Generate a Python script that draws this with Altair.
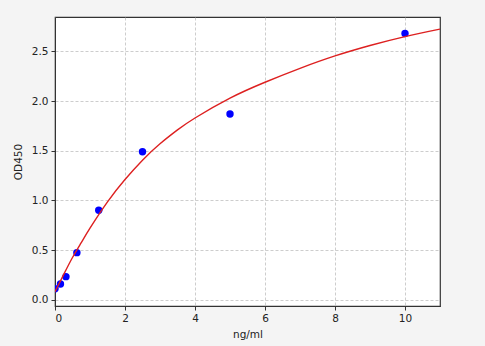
import altair as alt
import pandas as pd

# measured standards
conc = [0, 0.156, 0.3125, 0.625, 1.25, 2.5, 5, 10]
od = [0.11, 0.158, 0.232, 0.474, 0.90, 1.49, 1.87, 2.68]

# fitted curve
curve_x = [0, 0.25, 0.5, 0.75, 1, 1.5, 2, 2.5, 3, 3.5, 4, 5, 6, 7, 8, 9, 10, 11]
curve_y = [0.08, 0.255, 0.425, 0.575, 0.72, 0.985, 1.21, 1.405, 1.57, 1.71, 1.83,
           2.03, 2.19, 2.33, 2.455, 2.56, 2.65, 2.725]

x_ticks = [0, 2, 4, 6, 8, 10]
y_ticks = [0.0, 0.5, 1.0, 1.5, 2.0, 2.5]

pts = pd.DataFrame({"x": conc, "y": od})
fit = pd.DataFrame({"x": curve_x, "y": curve_y})

font = "DejaVu Sans"
xscale = alt.Scale(domain=[0, 11], nice=False, zero=False)
yscale = alt.Scale(domain=[-0.0635, 2.847], nice=False, zero=False)

xaxis = alt.Axis(values=x_ticks, format="d", title="ng/ml", grid=True,
                 gridDash=[3, 2], gridColor="#b8b8b8", gridWidth=0.7,
                 domainColor="#333333", tickColor="#333333", tickSize=4,
                 labelFontSize=10.5, titleFontSize=10.5, labelColor="#222222",
                 titleColor="#222222", labelFont=font, titleFont=font,
                 titleFontWeight="normal", labelPadding=3, titlePadding=6)
yaxis = alt.Axis(values=y_ticks, format=".1f", title="OD450", grid=True,
                 gridDash=[3, 2], gridColor="#b8b8b8", gridWidth=0.7,
                 domainColor="#333333", tickColor="#333333", tickSize=4,
                 labelFontSize=10.5, titleFontSize=10.5, labelColor="#222222",
                 titleColor="#222222", labelFont=font, titleFont=font,
                 titleFontWeight="normal", labelPadding=3, titlePadding=8)

points = alt.Chart(pts).mark_circle(size=55, color="#0000ff", opacity=1, clip=True).encode(
    x=alt.X("x:Q", scale=xscale, axis=xaxis),
    y=alt.Y("y:Q", scale=yscale, axis=yaxis),
)

line = alt.Chart(fit).mark_line(color="#dd2020", strokeWidth=1.4, interpolate="natural", clip=True).encode(
    x=alt.X("x:Q", scale=xscale),
    y=alt.Y("y:Q", scale=yscale),
)

chart = alt.layer(points, line).properties(
    width=385, height=289,
    background="#f4f4f4",
    autosize=alt.AutoSizeParams(type="none"),
    padding={"left": 55, "top": 17, "right": 45, "bottom": 40},
).configure_view(
    fill="white", stroke="#333333", strokeWidth=1.2
)

chart.save("out.html", embed_options={"renderer": "svg", "actions": False})
